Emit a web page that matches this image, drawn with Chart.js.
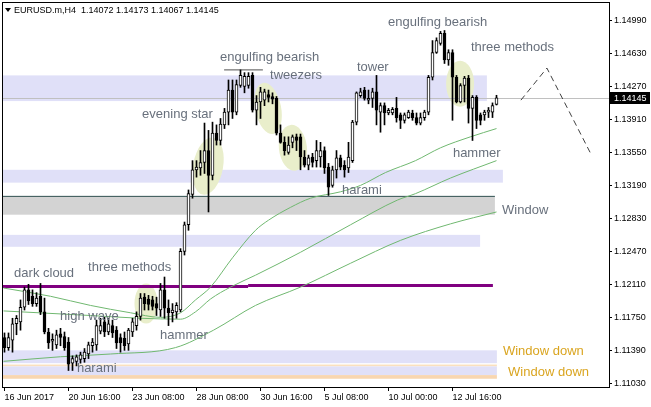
<!DOCTYPE html>
<html>
<head>
<meta charset="utf-8">
<title>EURUSD.m,H4</title>
<script src="https://cdn.jsdelivr.net/npm/chart.js@4.4.1/dist/chart.umd.min.js"></script>
<style>
  html, body { margin: 0; padding: 0; background: #fff; }
  canvas { display: block; }
</style>
</head>
<body>
<canvas id="chart" width="651" height="407"></canvas>
<script>
// --- Data (one entry per bar, oldest first) ---
const symbol = 'EURUSD.m,H4';

const opens = [
  1.1153, 1.1142, 1.1150, 1.1168, 1.1170, 1.1186, 1.1205, 1.1198, 1.1190, 1.1198,
  1.1181, 1.1159, 1.1149, 1.1145, 1.1157, 1.1154, 1.1148, 1.1125, 1.1127, 1.1129,
  1.1130, 1.1135, 1.1144, 1.1145, 1.1160, 1.1170, 1.1159, 1.1166, 1.1161, 1.1153,
  1.1152, 1.1146, 1.1159, 1.1166, 1.1176, 1.1197, 1.1195, 1.1194, 1.1190, 1.1183,
  1.1205, 1.1185, 1.1180, 1.1181, 1.1183, 1.1247, 1.1276, 1.1309, 1.1336, 1.1338,
  1.1344, 1.1357, 1.1330, 1.1376, 1.1368, 1.1385, 1.1399, 1.1423, 1.1399, 1.1428,
  1.1427, 1.1428, 1.1439, 1.1401, 1.1410, 1.1412, 1.1418, 1.1416, 1.1414, 1.1376,
  1.1366, 1.1355, 1.1366, 1.1372, 1.1372, 1.1350, 1.1341, 1.1350, 1.1346, 1.1350,
  1.1357, 1.1339, 1.1319, 1.1336, 1.1349, 1.1341, 1.1338, 1.1346, 1.1388, 1.1417,
  1.1423, 1.1412, 1.1414, 1.1421, 1.1399, 1.1406, 1.1398, 1.1398, 1.1403, 1.1396,
  1.1390, 1.1393, 1.1398, 1.1393, 1.1387, 1.1393, 1.1399, 1.1437, 1.1464, 1.1474,
  1.1485, 1.1456, 1.1464, 1.1437, 1.1410, 1.1428, 1.1436, 1.1403, 1.1415, 1.1396,
  1.1396, 1.1399, 1.1399, 1.14072
];
const highs = [
  1.1158, 1.1158, 1.1174, 1.1177, 1.1194, 1.1208, 1.1211, 1.1205, 1.1202, 1.1212,
  1.1196, 1.1163, 1.1157, 1.1161, 1.1163, 1.1159, 1.1153, 1.1133, 1.1134, 1.1137,
  1.1141, 1.1148, 1.1152, 1.1172, 1.1174, 1.1175, 1.1174, 1.1172, 1.1165, 1.1157,
  1.1159, 1.1163, 1.1174, 1.1181, 1.1201, 1.1201, 1.1199, 1.1198, 1.1197, 1.1212,
  1.1219, 1.1194, 1.1190, 1.1191, 1.1250, 1.1279, 1.1314, 1.1346, 1.1346, 1.1357,
  1.1387, 1.1379, 1.1388, 1.1385, 1.1392, 1.1403, 1.1434, 1.1434, 1.1434, 1.1445,
  1.1442, 1.1442, 1.1442, 1.1417, 1.1426, 1.1424, 1.1423, 1.1420, 1.1416, 1.1385,
  1.1372, 1.1372, 1.1374, 1.1375, 1.1375, 1.1357, 1.1352, 1.1354, 1.1368, 1.1366,
  1.1361, 1.1343, 1.1340, 1.1357, 1.1352, 1.1346, 1.1366, 1.1390, 1.1421, 1.1425,
  1.1426, 1.1423, 1.1425, 1.1439, 1.1409, 1.1409, 1.1403, 1.1404, 1.1415, 1.1398,
  1.1398, 1.1401, 1.1401, 1.1398, 1.1398, 1.1401, 1.1439, 1.1477, 1.1480, 1.1487,
  1.1488, 1.1467, 1.1467, 1.1439, 1.1430, 1.1438, 1.1439, 1.1417, 1.1417, 1.1398,
  1.1401, 1.1404, 1.1409, 1.14173
];
const lows = [
  1.1137, 1.1139, 1.1137, 1.1156, 1.1161, 1.1183, 1.1189, 1.1187, 1.1187, 1.1178,
  1.1157, 1.1141, 1.1139, 1.1141, 1.1144, 1.1139, 1.1117, 1.1117, 1.1122, 1.1125,
  1.1126, 1.1130, 1.1137, 1.1139, 1.1157, 1.1154, 1.1156, 1.1153, 1.1141, 1.1137,
  1.1139, 1.1139, 1.1154, 1.1161, 1.1172, 1.1183, 1.1183, 1.1183, 1.1177, 1.1176,
  1.1174, 1.1166, 1.1170, 1.1174, 1.1181, 1.1243, 1.1270, 1.1305, 1.1328, 1.1330,
  1.1332, 1.1290, 1.1325, 1.1363, 1.1363, 1.1381, 1.1385, 1.1392, 1.1396, 1.1426,
  1.1420, 1.1425, 1.1399, 1.1385, 1.1392, 1.1406, 1.1410, 1.1408, 1.1374, 1.1365,
  1.1352, 1.1353, 1.1360, 1.1357, 1.1336, 1.1339, 1.1336, 1.1339, 1.1339, 1.1339,
  1.1332, 1.1308, 1.1317, 1.1327, 1.1336, 1.1328, 1.1333, 1.1344, 1.1385, 1.1415,
  1.1412, 1.1408, 1.1404, 1.1385, 1.1377, 1.1385, 1.1396, 1.1396, 1.1388, 1.1381,
  1.1387, 1.1392, 1.1390, 1.1385, 1.1385, 1.1390, 1.1396, 1.1434, 1.1463, 1.1472,
  1.1452, 1.1450, 1.1390, 1.1409, 1.1409, 1.1410, 1.1387, 1.1368, 1.1381, 1.1385,
  1.1390, 1.1393, 1.1393, 1.14067
];
const closes = [
  1.1142, 1.1153, 1.1168, 1.1174, 1.1186, 1.1205, 1.1193, 1.1190, 1.1196, 1.1181,
  1.1159, 1.1147, 1.1151, 1.1156, 1.1153, 1.1142, 1.1124, 1.1130, 1.1132, 1.1134,
  1.1137, 1.1145, 1.1148, 1.1166, 1.1166, 1.1159, 1.1168, 1.1158, 1.1147, 1.1147,
  1.1144, 1.1161, 1.1170, 1.1176, 1.1196, 1.1190, 1.1189, 1.1187, 1.1185, 1.1205,
  1.1185, 1.1180, 1.1183, 1.1188, 1.1247, 1.1276, 1.1310, 1.1336, 1.1339, 1.1344,
  1.1357, 1.1330, 1.1376, 1.1368, 1.1386, 1.1399, 1.1423, 1.1399, 1.1429, 1.1439,
  1.1438, 1.1438, 1.1401, 1.1410, 1.1421, 1.1421, 1.1415, 1.1413, 1.1376, 1.1366,
  1.1357, 1.1363, 1.1372, 1.1368, 1.1350, 1.1341, 1.1349, 1.1344, 1.1357, 1.1357,
  1.1338, 1.1317, 1.1336, 1.1349, 1.1339, 1.1336, 1.1350, 1.1388, 1.1420, 1.1421,
  1.1414, 1.1414, 1.1421, 1.1401, 1.1406, 1.1398, 1.1401, 1.1402, 1.1393, 1.1390,
  1.1396, 1.1399, 1.1393, 1.1387, 1.1393, 1.1399, 1.1437, 1.1464, 1.1477, 1.1485,
  1.1456, 1.1464, 1.1437, 1.1410, 1.1428, 1.1436, 1.1403, 1.1415, 1.1390, 1.1390,
  1.1399, 1.1401, 1.1406, 1.14145
];
const bidPrice = 1.14145;

// axis ticks
const yTicks = [1.11030, 1.11390, 1.11750, 1.12110, 1.12470, 1.12830,
                1.13190, 1.13550, 1.13910, 1.14270, 1.14630, 1.14990];
const xTickBars = [0, 16, 32, 48, 64, 80, 96, 112];
const xTickLabels = ['16 Jun 2017', '20 Jun 16:00', '23 Jun 08:00', '28 Jun 08:00',
                     '30 Jun 16:00', '5 Jul 08:00', '10 Jul 00:00', '12 Jul 16:00'];

// moving averages, read as anchor points (bar index, price)
const maFastBars = [-0.25, 11.5, 21.5, 31.5, 39, 44, 47.75, 51.5, 57, 62.75, 66, 71.5, 76.5, 84, 89, 95.25, 102.75, 109, 116.5, 123];
const maFastValues = [1.1207, 1.1198, 1.1188, 1.1180, 1.1175, 1.1180, 1.1194, 1.1208, 1.1240, 1.1270, 1.1281, 1.1295, 1.1305, 1.1312, 1.1319, 1.1333, 1.1346, 1.1360, 1.1372, 1.1381];
const maMidBars = [-0.25, 21.5, 34, 44, 47.75, 51.5, 56.5, 62.75, 74, 86.5, 98.25, 102.75, 111.5, 123];
const maMidValues = [1.1182, 1.1177, 1.1174, 1.1173, 1.1181, 1.1195, 1.1208, 1.1221, 1.1246, 1.1276, 1.1303, 1.1310, 1.1327, 1.1346];
const maSlowBars = [-0.25, 14, 26.5, 42.75, 52.25, 62.75, 74, 86.5, 99, 111.5, 123];
const maSlowValues = [1.1127, 1.1132, 1.1135, 1.1142, 1.1161, 1.1188, 1.1208, 1.1234, 1.1259, 1.1277, 1.1290];

// drawn lines: forecast zigzag and the short top line over the engulfing pattern
const forecastBars = [129.1, 135.6, 146.4];
const forecastValues = [1.1412, 1.1447, 1.1355];
const topLineBars = [54.9, 64.6];
const topLineValues = [1.1445, 1.1445];

// --- chart objects (rectangles, levels, ellipses, notes) ---
const LAVENDER = 'rgb(224,224,248)';
const zones = [
  { from: -2, to: 120.6, top: 1.1439, bottom: 1.1411, color: LAVENDER },
  { from: -2, to: 124.6, top: 1.1336, bottom: 1.1322, color: LAVENDER },
  { from: -2, to: 122.6, top: 1.1307, bottom: 1.1287, color: '#d3d3d3' },
  { from: -2, to: 118.9, top: 1.1265, bottom: 1.1252, color: LAVENDER },
  { from: -2, to: 123.1, top: 1.1139, bottom: 1.1125, color: LAVENDER },
  { from: -2, to: 123.1, top: 1.11235, bottom: 1.11215, color: 'rgb(250,224,190)' },
  { from: -2, to: 123.1, top: 1.11215, bottom: 1.1112, color: LAVENDER },
  { from: -2, to: 123.1, top: 1.1112, bottom: 1.1108, color: 'rgb(248,214,176)' }
];
const levels = [
  { from: -2, to: 122.6, price: 1.1307, color: '#2f4f4f', width: 1 },
  { from: -2, to: 60.9, price: 1.12087, color: '#800080', width: 3 },
  { from: 60.9, to: 122.1, price: 1.12098, color: '#800080', width: 3 }
];
const highlights = [
  { bar: 35.4, price: 1.1190, rx: 2.9, ry: 0.00218, rot: 0 },
  { bar: 50.9, price: 1.1340, rx: 3.75, ry: 0.00316, rot: 0.18 },
  { bar: 65.9, price: 1.1403, rx: 3.25, ry: 0.00284, rot: -0.2 },
  { bar: 72.1, price: 1.1360, rx: 3.5, ry: 0.00251, rot: -0.1 },
  { bar: 113.9, price: 1.1430, rx: 3.5, ry: 0.00251, rot: 0 }
];
const notes = [
  { text: 'engulfing bearish', bar: 95.9, price: 1.1497 },
  { text: 'three methods', bar: 116.6, price: 1.1469 },
  { text: 'engulfing bearish', bar: 53.9, price: 1.1459 },
  { text: 'tweezers', bar: 66.4, price: 1.1439 },
  { text: 'tower', bar: 88.1, price: 1.1448 },
  { text: 'evening star', bar: 34.4, price: 1.1396 },
  { text: 'hammer', bar: 112.1, price: 1.1354 },
  { text: 'harami', bar: 84.4, price: 1.1313 },
  { text: 'Window', bar: 124.4, price: 1.1292 },
  { text: 'dark cloud', bar: 2.4, price: 1.1223 },
  { text: 'three methods', bar: 20.9, price: 1.1229 },
  { text: 'high wave', bar: 13.9, price: 1.1176 },
  { text: 'hammer', bar: 38.9, price: 1.1155 },
  { text: 'harami', bar: 18.1, price: 1.1119 },
  { text: 'Window down', bar: 124.6, price: 1.1138, color: '#daa520' },
  { text: 'Window down', bar: 125.9, price: 1.1115, color: '#daa520' }
];

const FONT = '"Liberation Sans", Arial, sans-serif';
Chart.defaults.font.family = FONT;

const toPoints = (xs, ys) => xs.map((v, i) => ({ x: v, y: ys[i] }));

const mt4Objects = {
  id: 'mt4Objects',
  beforeDatasetsDraw(chart) {
    const { ctx, chartArea: a, scales: { x, y } } = chart;
    ctx.save();
    ctx.beginPath();
    ctx.rect(a.left, a.top, a.right - a.left, a.bottom - a.top);
    ctx.clip();

    zones.forEach(z => {
      const x0 = x.getPixelForValue(z.from), x1 = x.getPixelForValue(z.to);
      const y0 = y.getPixelForValue(z.top), y1 = y.getPixelForValue(z.bottom);
      ctx.fillStyle = z.color;
      ctx.fillRect(x0, y0, x1 - x0, y1 - y0);
    });

    highlights.forEach(h => {
      const cx = x.getPixelForValue(h.bar), cy = y.getPixelForValue(h.price);
      const rx = x.getPixelForValue(h.bar + h.rx) - cx;
      const ry = cy - y.getPixelForValue(h.price + h.ry);
      ctx.beginPath();
      ctx.ellipse(cx, cy, rx, ry, h.rot, 0, Math.PI * 2);
      ctx.fillStyle = 'rgb(233,238,203)';
      ctx.fill();
    });

    levels.forEach(l => {
      const py = y.getPixelForValue(l.price);
      ctx.beginPath();
      ctx.moveTo(x.getPixelForValue(l.from), py);
      ctx.lineTo(x.getPixelForValue(l.to), py);
      ctx.strokeStyle = l.color;
      ctx.lineWidth = l.width;
      ctx.stroke();
    });

    // bid line
    const by = Math.round(y.getPixelForValue(bidPrice)) + 0.5;
    ctx.beginPath();
    ctx.moveTo(a.left, by);
    ctx.lineTo(a.right, by);
    ctx.strokeStyle = '#c0c0c0';
    ctx.lineWidth = 1;
    ctx.stroke();
    ctx.restore();
  },
  afterDatasetsDraw(chart) {
    const { ctx, chartArea: a, scales: { x, y } } = chart;
    ctx.save();
    ctx.beginPath();
    ctx.rect(a.left, a.top, a.right - a.left, a.bottom - a.top);
    ctx.clip();
    ctx.font = '13px ' + FONT;
    ctx.textBaseline = 'middle';
    ctx.textAlign = 'left';
    notes.forEach(n => {
      ctx.fillStyle = n.color || 'rgb(104,112,124)';
      ctx.fillText(n.text, x.getPixelForValue(n.bar), y.getPixelForValue(n.price));
    });
    ctx.restore();
  },
  afterDraw(chart) {
    const { ctx, chartArea: a, scales: { y } } = chart;
    ctx.save();
    // frame
    ctx.strokeStyle = '#000';
    ctx.lineWidth = 1;
    ctx.strokeRect(a.left - 0.5, a.top - 0.5, a.right - a.left + 1, a.bottom - a.top + 1);

    // bid price box on the price axis
    const py = Math.round(y.getPixelForValue(bidPrice));
    ctx.fillStyle = '#000';
    ctx.fillRect(a.right + 1, py - 6, 40, 12);
    ctx.fillStyle = '#fff';
    ctx.font = '9px ' + FONT;
    ctx.textBaseline = 'middle';
    ctx.textAlign = 'left';
    ctx.fillText(bidPrice.toFixed(5), a.right + 5, py + 0.5);

    // header: symbol and last bar OHLC
    const last = closes.length - 1;
    ctx.beginPath();
    ctx.moveTo(5, 8); ctx.lineTo(11, 8); ctx.lineTo(8, 12); ctx.closePath();
    ctx.fillStyle = '#000';
    ctx.fill();
    const header = symbol + '  ' + [opens[last], highs[last], lows[last], closes[last]]
      .map(v => v.toFixed(5)).join(' ');
    ctx.fillText(header, 14, 10.5);
    ctx.restore();
  }
};

new Chart(document.getElementById('chart'), {
  type: 'bar',
  data: {
    datasets: [
      {
        label: 'body',
        data: closes.map((c, i) => ({ x: i, y: [opens[i], c] })),
        backgroundColor: closes.map((c, i) => c >= opens[i] ? '#ffffff' : '#000000'),
        borderColor: '#000000',
        borderWidth: 1,
        borderSkipped: false,
        barThickness: 3,
        grouped: false
      },
      {
        label: 'wick',
        data: highs.map((h, i) => ({ x: i, y: [lows[i], h] })),
        backgroundColor: '#000000',
        barThickness: 1,
        grouped: false
      },
      {
        type: 'line', label: 'top line',
        data: toPoints(topLineBars, topLineValues),
        borderColor: '#505050', borderWidth: 1, pointRadius: 0
      },
      {
        type: 'line', label: 'forecast',
        data: toPoints(forecastBars, forecastValues),
        borderColor: '#404040', borderWidth: 1, borderDash: [6, 4], pointRadius: 0
      },
      {
        type: 'line', label: 'MA fast',
        data: toPoints(maFastBars, maFastValues),
        borderColor: 'rgb(112,184,112)', borderWidth: 1, pointRadius: 0,
        cubicInterpolationMode: 'monotone'
      },
      {
        type: 'line', label: 'MA mid',
        data: toPoints(maMidBars, maMidValues),
        borderColor: 'rgb(112,184,112)', borderWidth: 1, pointRadius: 0,
        cubicInterpolationMode: 'monotone'
      },
      {
        type: 'line', label: 'MA slow',
        data: toPoints(maSlowBars, maSlowValues),
        borderColor: 'rgb(112,184,112)', borderWidth: 1, pointRadius: 0,
        cubicInterpolationMode: 'monotone'
      }
    ]
  },
  options: {
    responsive: false,
    animation: false,
    devicePixelRatio: 1,
    layout: { padding: { left: 3, top: 3, right: 0, bottom: 0 } },
    plugins: { legend: { display: false }, tooltip: { enabled: false } },
    scales: {
      x: {
        type: 'linear',
        min: -0.375,
        max: 151.125,
        offset: false,
        border: { display: false },
        grid: { offset: false, drawOnChartArea: false, tickLength: 4, color: '#000' },
        ticks: {
          align: 'start',
          autoSkip: false,
          maxRotation: 0,
          padding: 1,
          color: '#000',
          font: { size: 9 },
          callback: (value, index) => xTickLabels[index]
        },
        afterBuildTicks: scale => { scale.ticks = xTickBars.map(v => ({ value: v })); },
        afterFit: scale => {
          scale.height = 20;
          scale.paddingLeft = scale.paddingRight = 0;
        }
      },
      y: {
        position: 'right',
        min: 1.1099,
        max: 1.1518,
        border: { display: false },
        grid: { drawOnChartArea: false, tickLength: 3, color: '#000' },
        ticks: {
          padding: 2,
          color: '#000',
          font: { size: 9 },
          callback: value => value.toFixed(5)
        },
        afterBuildTicks: scale => { scale.ticks = yTicks.map(v => ({ value: v })); },
        afterFit: scale => {
          scale.width = 42;
          scale.paddingTop = scale.paddingBottom = 0;
        }
      }
    }
  },
  plugins: [mt4Objects]
});
</script>
</body>
</html>
